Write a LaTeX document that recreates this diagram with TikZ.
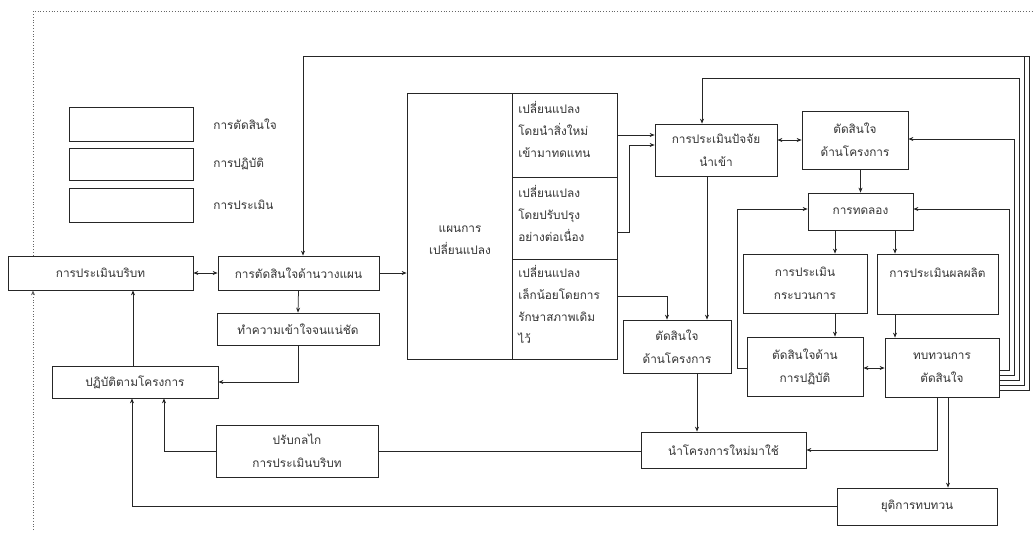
\documentclass[tikz,border=0pt]{standalone}
\usepackage{fontspec}
\newfontfamily\thai[Script=Thai]{Loma}
\usetikzlibrary{arrows.meta,calc}
\begin{document}
\begin{tikzpicture}[x=1pt,y=-1pt,
  line width=0.75pt, draw=black!85,
  box/.style={draw, rectangle, inner sep=0pt, align=center, text=black!80,
    font=\thai\fontsize{11.8}{23}\selectfont},
  lab/.style={inner sep=0pt, text=black!80, font=\thai\fontsize{11.8}{22}\selectfont},
  arr/.style={-{Stealth[length=5pt,width=4pt]}},
  darr/.style={{Stealth[length=5pt,width=4pt]}-{Stealth[length=5pt,width=4pt]}},
  dots/.style={dotted, line width=0.8pt, draw=black!60}]
\useasboundingbox (0,0) rectangle (1033,535);
% legend
\node[box, minimum width=124, minimum height=34] (lg1) at (131,124) {};
\node[box, minimum width=124, minimum height=32] (lg2) at (131,164) {};
\node[box, minimum width=124, minimum height=34] (lg3) at (131,205) {};
\node[lab, anchor=west] (lt1) at (213,124) {การตัดสินใจ};
\node[lab, anchor=west] (lt2) at (213,164) {การปฏิบัติ};
\node[lab, anchor=west] (lt3) at (213,205) {การประเมิน};
% left part
\node[box, minimum width=185, minimum height=34] (ctx) at (100.5,273) {การประเมินบริบท};
\node[box, minimum width=161, minimum height=34] (pln) at (298.5,273) {การตัดสินใจด้านวางแผน};
\node[box, minimum width=162, minimum height=32] (und) at (298,329) {ทำความเข้าใจจนแน่ชัด};
\node[box, minimum width=166, minimum height=32] (imp) at (135,382) {ปฏิบัติตามโครงการ};
\node[box, minimum width=162, minimum height=52] (adj) at (297,451) {ปรับกลไก\\การประเมินบริบท};
% change plan
\node[box, minimum width=105, minimum height=266] (chg) at (459.5,226) {};
\node[lab, align=center] (chgt) at (460,240) {แผนการ\\เปลี่ยนแปลง};
\node[box, minimum width=105, minimum height=84] (s1) at (564.5,135) {};
\node[box, minimum width=105, minimum height=82] (s2) at (564.5,218) {};
\node[box, minimum width=105, minimum height=100] (s3) at (564.5,309) {};
\node[lab, align=left, anchor=north west] (s1t) at (518,101) {เปลี่ยนแปลง\\โดยนำสิ่งใหม่\\เข้ามาทดแทน};
\node[lab, align=left, anchor=north west] (s2t) at (518,185) {เปลี่ยนแปลง\\โดยปรับปรุง\\อย่างต่อเนื่อง};
\node[lab, align=left, anchor=north west] (s3t) at (518,265) {เปลี่ยนแปลง\\เล็กน้อยโดยการ\\รักษาสภาพเดิม\\ไว้};
% right part
\node[box, minimum width=122, minimum height=52] (inp) at (716,150) {การประเมินปัจจัย\\นำเข้า};
\node[box, minimum width=106, minimum height=58] (pd1) at (855,140) {ตัดสินใจ\\ด้านโครงการ};
\node[box, minimum width=108, minimum height=53] (pd2) at (677,346.5) {ตัดสินใจ\\ด้านโครงการ};
\node[box, minimum width=105, minimum height=37] (exp) at (860.5,211.5) {การทดลอง};
\node[box, minimum width=124, minimum height=59] (prc) at (805,283.5) {การประเมิน\\กระบวนการ};
\node[box, minimum width=121, minimum height=60] (prd) at (937.5,284) {การประเมินผลผลิต\\\mbox{}};
\node[box, minimum width=116, minimum height=59] (act) at (805,366.5) {ตัดสินใจด้าน\\การปฏิบัติ};
\node[box, minimum width=114, minimum height=59] (rev) at (942,367.5) {ทบทวนการ\\ตัดสินใจ};
\node[box, minimum width=165, minimum height=36] (use) at (723.5,450) {นำโครงการใหม่มาใช้};
\node[box, minimum width=160, minimum height=37] (fin) at (917,506.5) {ยุติการทบทวน};
\coordinate (topR) at (1029,56);
% dotted frame
\draw[dots] (ctx.north -| 33,0) -- (33,11) -- (1033,11);
\draw[dots,arr] (33,530) -- (ctx.south -| 33,0);
% connectors left
\draw[darr] (ctx.east) -- (pln.west);
\draw[arr] (pln.east) -- (pln.east -| chg.west);
\draw[arr] (pln.south) -- (und.north);
\draw[arr] (und.south) |- (imp.east);
\draw[arr] (imp.north -| 133,0) -- (ctx.south -| 133,0);
\draw[arr] (fin.west) -| (imp.south -| 132,0);
\draw[arr] (adj.west) -| (imp.south -| 164,0);
\draw (adj.east) -- (adj.east -| use.west);
% change plan connectors
\draw[arr] (s1.east |- 0,135) -- (inp.west |- 0,135);
\draw[arr] (s2.east |- 0,232) -- (629,232) |- (inp.west |- 0,145);
\draw[arr] (s3.east |- 0,296) -| (pd2.north -| 667,0);
\draw[arr] (inp.south -| 707,0) -- (pd2.north -| 707,0);
\draw[arr] (pd2.south -| 697,0) -- (use.north -| 697,0);
% right connectors
\draw[darr] (inp.east |- 0,140) -- (pd1.west |- 0,140);
\draw[arr] (pd1.south -| exp.north) -- (exp.north);
\draw[arr] (exp.south -| 835,0) -- (prc.north -| 835,0);
\draw[arr] (exp.south -| 895,0) -- (prd.north -| 895,0);
\draw[arr] (prc.south -| 835,0) -- (act.north -| 835,0);
\draw[arr] (prd.south -| 895,0) -- (rev.north -| 895,0);
\draw[darr] (act.east |- 0,368) -- (rev.west |- 0,368);
\draw[arr] (act.west |- 0,368) -- (737,368) |- (exp.west |- 0,209);
\draw[arr] (rev.south -| 937,0) |- (use.east);
\draw[arr] (rev.south -| 948,0) -- (fin.north -| 948,0);
% feedback lines from review
\draw[arr] (rev.east |- 0,370) -- (1009,370) |- (exp.east |- 0,209);
\draw[arr] (rev.east |- 0,375) -- (1014,375) |- (pd1.east |- 0,139);
\draw[arr] (rev.east |- 0,380) -- (1019,380) |- (702,78) -- (inp.north -| 702,0);
\draw (rev.east |- 0,385) -- (1024,385) -- (topR -| 1024,0);
\draw[arr] (rev.east |- 0,390) -- (1029,390) -- (topR) -- (303,56) -- (pln.north -| 303,0);
\end{tikzpicture}
\end{document}
